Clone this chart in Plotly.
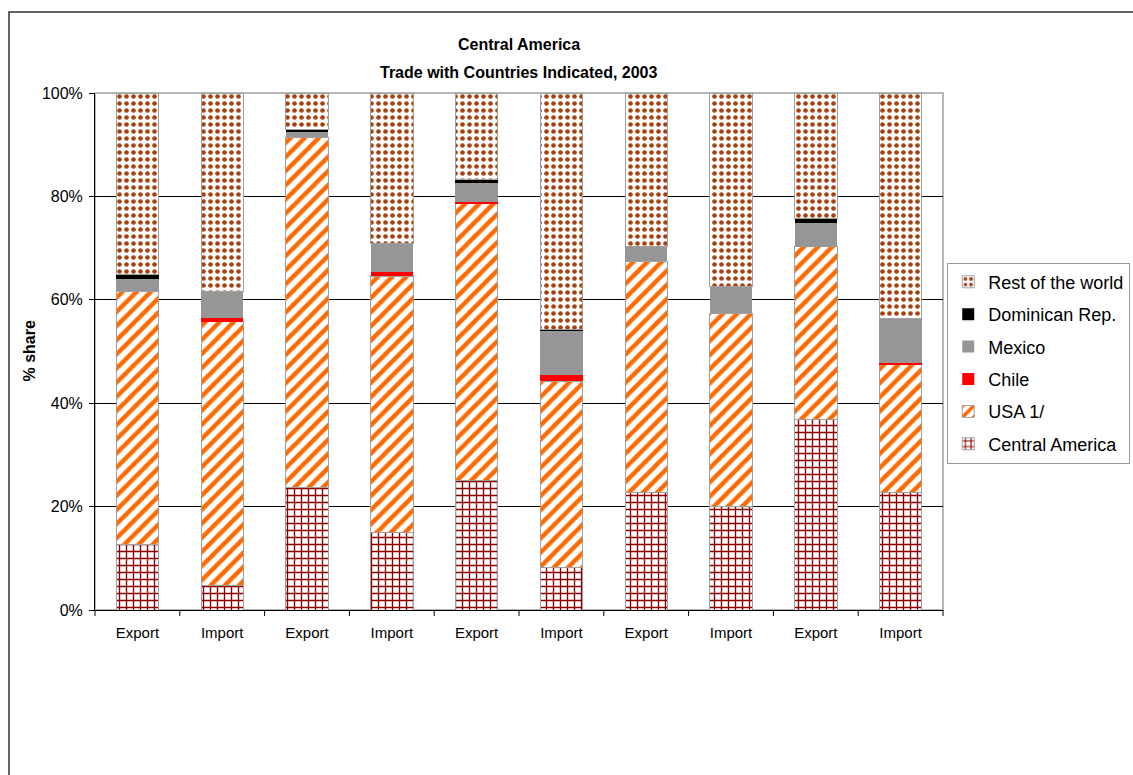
import plotly.graph_objects as go

# ---- data (percent shares) ----
categories = ["Export", "Import", "Export", "Import", "Export",
              "Import", "Export", "Import", "Export", "Import"]
central_america = [12.6, 4.7, 23.7, 15.0, 25.0, 8.3, 22.8, 20.1, 36.8, 22.8]
usa = [49.1, 51.1, 67.7, 49.6, 53.6, 35.9, 44.7, 37.3, 33.5, 24.6]
chile = [0.0, 0.7, 0.0, 0.8, 0.4, 1.3, 0.0, 0.0, 0.0, 0.4]
mexico = [2.3, 5.1, 1.1, 5.5, 3.5, 8.5, 2.8, 5.1, 4.6, 8.6]
dominican_rep = [0.8, 0.0, 0.5, 0.0, 0.8, 0.2, 0.0, 0.0, 0.8, 0.0]
rest_of_world = [35.2, 38.4, 7.0, 29.1, 16.7, 45.8, 29.7, 37.5, 24.3, 43.6]
y_ticks = [0, 20, 40, 60, 80, 100]
y_tick_labels = ["0%", "20%", "40%", "60%", "80%", "100%"]

x = list(range(len(categories)))
FONT = "Arial, Liberation Sans, sans-serif"
OUTLINE = "#a0a0a0"
X_RANGE = [-0.5, len(categories) - 0.5]

fig = go.Figure()

series = [
    ("Central America", central_america,
     dict(color="white", line=dict(color=OUTLINE, width=1),
          pattern=dict(shape="+", fgcolor="#8B0000", fgopacity=1, size=7,
                       solidity=0.35, fillmode="overlay"))),
    ("USA 1/", usa,
     dict(color="white", line=dict(color=OUTLINE, width=1),
          pattern=dict(shape="/", fgcolor="#FF6A00", fgopacity=1, size=10,
                       solidity=0.45, fillmode="overlay"))),
    ("Chile", chile, dict(color="#FF0000", line=dict(width=0))),
    ("Mexico", mexico, dict(color="#969696", line=dict(width=0))),
    ("Dominican Rep.", dominican_rep, dict(color="#000000", line=dict(width=0))),
    ("Rest of the world", rest_of_world,
     dict(color="white", line=dict(color=OUTLINE, width=1),
          pattern=dict(shape=".", fgcolor="#A8400F", fgopacity=1, size=7,
                       solidity=0.35, fillmode="overlay"))),
]

n = len(series)
for i, (name, vals, marker) in enumerate(series):
    fig.add_trace(go.Bar(x=x, y=vals, name=name, marker=marker,
                         legendgroup=name, legendrank=1000 + (n - i), width=0.5))

fig.update_layout(
    width=1133, height=775,
    barmode="stack",
    paper_bgcolor="white", plot_bgcolor="white",
    margin=dict(l=95, r=190, t=93, b=165, autoexpand=False),
    font=dict(family=FONT, color="black", size=15),
    showlegend=True,
    legend=dict(
        x=1.005, y=0.672, xanchor="left", yanchor="top",
        traceorder="grouped", tracegroupgap=6,
        bordercolor="#999999", borderwidth=1, bgcolor="white",
        font=dict(family=FONT, size=18, color="black"),
    ),
)

fig.update_xaxes(
    range=X_RANGE,
    tickmode="array", tickvals=x, ticktext=categories,
    ticks="outside", ticklen=9, tickcolor="rgba(0,0,0,0)",
    showgrid=False,
    showline=True, linecolor="black", linewidth=1,
    tickfont=dict(size=15, family=FONT),
    zeroline=False,
)
fig.update_yaxes(
    range=[0, 100],
    tickmode="array", tickvals=y_ticks, ticktext=y_tick_labels,
    ticks="outside", ticklen=5, tickcolor="black",
    showgrid=True, gridcolor="black", gridwidth=1,
    showline=True, linecolor="black", linewidth=1,
    tickfont=dict(size=16, family=FONT),
    ticklabelstandoff=3,
    zeroline=False,
)

# category-boundary tick marks below the x axis (paper coords, not clipped)
span = X_RANGE[1] - X_RANGE[0]
for b in [i - 0.5 for i in range(len(x) + 1)]:
    px = (b - X_RANGE[0]) / span
    fig.add_shape(type="line", xref="paper", yref="paper", x0=px, x1=px,
                  y0=0, y1=-6 / 517, line=dict(color="black", width=1))

# plot-area border (gray, top/right) and outer chart frame
fig.add_shape(type="rect", xref="paper", yref="paper", x0=0, x1=1, y0=0, y1=1,
              line=dict(color="#a0a0a0", width=1.5), layer="below")
fig.add_shape(type="rect", xref="paper", yref="paper",
              x0=(9 - 95) / 848, x1=1.5, y0=-0.5, y1=(610 - 12) / 517,
              line=dict(color="#303030", width=1.5), layer="below")

# title lines
fig.add_annotation(text="<b>Central America</b>", xref="paper", yref="paper",
                   x=0.5, y=(610 - 45) / 517, showarrow=False, yanchor="middle",
                   font=dict(size=16, family=FONT))
fig.add_annotation(text="<b>Trade with Countries Indicated, 2003</b>", xref="paper", yref="paper",
                   x=0.5, y=(610 - 72) / 517, showarrow=False, yanchor="middle",
                   font=dict(size=16, family=FONT))
# y-axis title
fig.add_annotation(text="<b>% share</b>", xref="paper", yref="paper",
                   x=(29 - 95) / 848, y=0.5, showarrow=False, textangle=-90,
                   xanchor="center", yanchor="middle",
                   font=dict(size=16, family=FONT))

fig.write_html("out.html")
